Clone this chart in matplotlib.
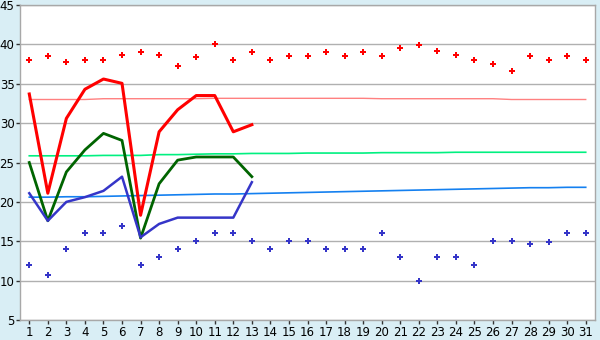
import matplotlib
matplotlib.use('Agg')
import matplotlib.pyplot as plt

days = list(range(1, 32))

# daily extremes (markers)
max_abs = [38, 38.5, 37.8, 38, 38, 38.6, 39, 38.6, 37.3, 38.35, 40.1, 38, 39, 38, 38.5, 38.5,
           39, 38.5, 39, 38.5, 39.5, 39.9, 39.1, 38.6, 38, 37.5, 36.6, 38.5, 38, 38.5, 38]
min_abs = [12, 10.7, 14, 16, 16, 17, 12, 13, 14, 15, 16, 16, 15, 14, 15, 15,
           14, 14, 14, 16, 13, 10, 13, 13, 12, 15, 15, 14.6, 14.9, 16, 16]

# observed month so far (days 1-13)
obs_days = list(range(1, 14))
obs_max = [33.7, 21.1, 30.6, 34.3, 35.6, 35.05, 18.3, 28.9, 31.7, 33.5, 33.5, 28.9, 29.8]
obs_mean = [25.0, 17.6, 23.8, 26.6, 28.7, 27.8, 15.4, 22.3, 25.3, 25.7, 25.7, 25.7, 23.2]
obs_min = [21.1, 17.6, 20.0, 20.6, 21.4, 23.2, 15.5, 17.2, 18.0, 18.0, 18.0, 18.0, 22.5]

# normals
norm_max = [33.0, 33.0, 33.0, 33.0, 33.1, 33.1, 33.1, 33.1, 33.1, 33.1, 33.15, 33.15, 33.15,
            33.15, 33.15, 33.15, 33.15, 33.15, 33.15, 33.1, 33.1, 33.1, 33.1, 33.1, 33.1,
            33.1, 33.0, 33.0, 33.0, 33.0, 33.0]
norm_mean = [25.85, 25.85, 25.85, 25.85, 25.9, 25.9, 25.9, 26.0, 26.0, 26.05, 26.1, 26.1, 26.15,
             26.15, 26.15, 26.2, 26.2, 26.2, 26.2, 26.25, 26.25, 26.25, 26.25, 26.3, 26.3,
             26.3, 26.3, 26.3, 26.3, 26.3, 26.3]
norm_min = [20.6, 20.6, 20.65, 20.65, 20.7, 20.75, 20.8, 20.85, 20.9, 20.95, 21.0, 21.0, 21.05,
            21.1, 21.15, 21.2, 21.25, 21.3, 21.35, 21.4, 21.45, 21.5, 21.55, 21.6, 21.65,
            21.7, 21.75, 21.8, 21.8, 21.85, 21.85]

fig = plt.figure(figsize=(6, 3.4), dpi=100)
fig.patch.set_facecolor('#d9eef5')
ax = fig.add_axes([20 / 600, 20 / 340, 575 / 600, 315 / 340])
ax.set_facecolor('white')

ax.plot(days, norm_max, color='#ff8080', lw=1.0, zorder=2)
ax.plot(days, norm_mean, color='#00f080', lw=1.2, zorder=2)
ax.plot(days, norm_min, color='#1480f0', lw=1.2, zorder=2)

ax.plot(obs_days, obs_max, color='#ff0000', lw=2.2, zorder=3)
ax.plot(obs_days, obs_mean, color='#006400', lw=2.0, zorder=3)
ax.plot(obs_days, obs_min, color='#3535c8', lw=1.8, zorder=3)

ax.plot(days, max_abs, ls='none', marker='P', ms=5, color='#ff0000', mew=0, zorder=4)
ax.plot(days, min_abs, ls='none', marker='P', ms=5, color='#3535c8', mew=0, zorder=4)

ax.set_xlim(0.5, 31.5)
ax.set_ylim(5, 45)
ax.set_xticks(days)
ax.set_yticks(range(5, 46, 5))
ax.yaxis.grid(True, color='#b0b0b0', lw=1)
ax.set_axisbelow(True)
for s in ax.spines.values():
    s.set_color('#a8a8a8')
    s.set_linewidth(1)
ax.tick_params(axis='both', labelsize=8.5, length=3, width=1, color='#333333', pad=1)

fig.savefig('out.png', dpi=100, facecolor=fig.get_facecolor())
